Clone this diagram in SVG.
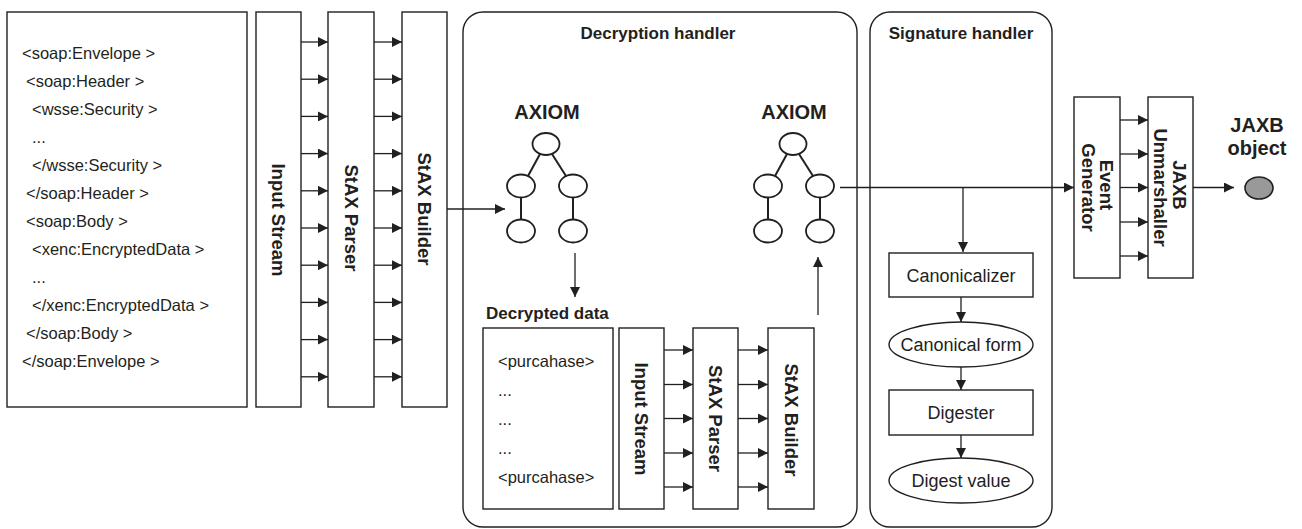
<svg xmlns="http://www.w3.org/2000/svg" width="1302" height="529" viewBox="0 0 1302 529">
  <style>
    .box { fill: #ffffff; stroke: #231f20; stroke-width: 1.4; }
    .panel { fill: #ffffff; stroke: #231f20; stroke-width: 1.4; }
    .node { fill: #ffffff; stroke: #231f20; stroke-width: 1.8; }
    .edge { fill: none; stroke: #231f20; stroke-width: 2; }
    .arrow { fill: none; stroke: #231f20; stroke-width: 1.3; marker-end: url(#head); }
    .code { font-family: "Liberation Sans", Arial, sans-serif; font-size: 16.5px; fill: #231f20; }
    .plain { font-family: "Liberation Sans", Arial, sans-serif; font-size: 18px; fill: #231f20; text-anchor: middle; }
    .title { font-family: "Liberation Sans", Arial, sans-serif; font-size: 17px; font-weight: bold; fill: #231f20; }
    .vlabel { font-family: "Liberation Sans", Arial, sans-serif; font-size: 18.5px; font-weight: bold; fill: #231f20; text-anchor: middle; }
    .big { font-family: "Liberation Sans", Arial, sans-serif; font-size: 20px; font-weight: bold; fill: #231f20; text-anchor: middle; }
  </style>
  <defs>
    <marker id="head" markerUnits="userSpaceOnUse" markerWidth="10" markerHeight="10" viewBox="0 0 10 10" refX="10" refY="5" orient="auto">
      <path d="M0,0 L10,5 L0,10 z" fill="#231f20"/>
    </marker>
  </defs>

  <!-- SOAP message -->
  <g id="soap-message">
    <rect class="box" x="7" y="12" width="240" height="395"/>
    <text class="code" x="22" y="59">&lt;soap:Envelope &gt;</text>
    <text class="code" x="26" y="87">&lt;soap:Header &gt;</text>
    <text class="code" x="32" y="115">&lt;wsse:Security &gt;</text>
    <text class="code" x="32" y="143">...</text>
    <text class="code" x="32" y="171">&lt;/wsse:Security &gt;</text>
    <text class="code" x="26" y="199">&lt;/soap:Header &gt;</text>
    <text class="code" x="26" y="227">&lt;soap:Body &gt;</text>
    <text class="code" x="32" y="255">&lt;xenc:EncryptedData &gt;</text>
    <text class="code" x="32" y="283">...</text>
    <text class="code" x="32" y="311">&lt;/xenc:EncryptedData &gt;</text>
    <text class="code" x="26" y="339">&lt;/soap:Body &gt;</text>
    <text class="code" x="22" y="367">&lt;/soap:Envelope &gt;</text>
  </g>

  <!-- outer pipeline -->
  <g id="input-stream">
    <rect class="box" x="256" y="12" width="45" height="395"/>
    <text class="vlabel" transform="translate(278.5,220) rotate(90)" y="6.5">Input Stream</text>
  </g>
  <g id="stax-parser">
    <rect class="box" x="328" y="12" width="46" height="395"/>
    <text class="vlabel" transform="translate(351,218) rotate(90)" y="6.5">StAX Parser</text>
  </g>
  <g id="stax-builder">
    <rect class="box" x="402" y="12" width="45" height="395"/>
    <text class="vlabel" transform="translate(424.5,209) rotate(90)" y="6.5">StAX Builder</text>
  </g>

  <!-- decryption handler -->
  <g id="decryption-handler">
    <rect class="panel" x="463" y="12" width="394" height="515" rx="20" ry="20"/>
    <text class="title" x="658" y="39" text-anchor="middle">Decryption handler</text>
  </g>
  <g id="axiom-in">
    <text class="big" x="547" y="119">AXIOM</text>
    <line class="edge" x1="540" y1="154" x2="528" y2="176"/>
    <line class="edge" x1="552" y1="154" x2="566" y2="176"/>
    <line class="edge" x1="521" y1="197.5" x2="521" y2="219.5"/>
    <line class="edge" x1="573" y1="197.5" x2="573" y2="219.5"/>
    <ellipse class="node" cx="546" cy="144" rx="13.5" ry="11"/>
    <ellipse class="node" cx="521" cy="186" rx="14" ry="11.5"/>
    <ellipse class="node" cx="573" cy="186" rx="14" ry="11.5"/>
    <ellipse class="node" cx="521" cy="231" rx="14" ry="11.5"/>
    <ellipse class="node" cx="573" cy="231" rx="14" ry="11.5"/>
  </g>
  <g id="axiom-out">
    <text class="big" x="794" y="119">AXIOM</text>
    <line class="edge" x1="787" y1="154" x2="775" y2="176"/>
    <line class="edge" x1="799" y1="154" x2="813" y2="176"/>
    <line class="edge" x1="768" y1="197.5" x2="768" y2="219.5"/>
    <line class="edge" x1="820" y1="197.5" x2="820" y2="219.5"/>
    <ellipse class="node" cx="793" cy="144" rx="13.5" ry="11"/>
    <ellipse class="node" cx="768" cy="186" rx="14" ry="11.5"/>
    <ellipse class="node" cx="820" cy="186" rx="14" ry="11.5"/>
    <ellipse class="node" cx="768" cy="231" rx="14" ry="11.5"/>
    <ellipse class="node" cx="820" cy="231" rx="14" ry="11.5"/>
  </g>
  <g id="decrypted-data">
    <text class="title" x="486" y="319">Decrypted data</text>
    <rect class="box" x="483" y="328" width="130" height="181"/>
    <text class="code" x="498" y="367" font-size="17">&lt;purcahase&gt;</text>
    <text class="code" x="498" y="396">...</text>
    <text class="code" x="498" y="425">...</text>
    <text class="code" x="498" y="454">...</text>
    <text class="code" x="498" y="483" font-size="17">&lt;purcahase&gt;</text>
  </g>
  <g id="inner-input-stream">
    <rect class="box" x="619" y="328" width="45" height="181"/>
    <text class="vlabel" transform="translate(641.5,419) rotate(90)" y="6.5">Input Stream</text>
  </g>
  <g id="inner-stax-parser">
    <rect class="box" x="693" y="328" width="45" height="181"/>
    <text class="vlabel" transform="translate(715.5,418.5) rotate(90)" y="6.5">StAX Parser</text>
  </g>
  <g id="inner-stax-builder">
    <rect class="box" x="768" y="328" width="46" height="181"/>
    <text class="vlabel" transform="translate(791,420) rotate(90)" y="6.5">StAX Builder</text>
  </g>

  <!-- signature handler -->
  <g id="signature-handler">
    <rect class="panel" x="870" y="12" width="182" height="515" rx="20" ry="20"/>
    <text class="title" x="961" y="39" text-anchor="middle">Signature handler</text>
  </g>
  <g id="canonicalizer">
    <rect class="box" x="889" y="253" width="144" height="44"/>
    <text class="plain" x="961" y="282">Canonicalizer</text>
  </g>
  <g id="canonical-form">
    <ellipse class="box" cx="961" cy="344.5" rx="72" ry="22.5"/>
    <text class="plain" x="961" y="351">Canonical form</text>
  </g>
  <g id="digester">
    <rect class="box" x="889" y="390" width="144" height="45"/>
    <text class="plain" x="961" y="419">Digester</text>
  </g>
  <g id="digest-value">
    <ellipse class="box" cx="961" cy="480.5" rx="72" ry="22.5"/>
    <text class="plain" x="961" y="487">Digest value</text>
  </g>

  <!-- JAXB -->
  <g id="event-generator">
    <rect class="box" x="1074" y="97" width="46" height="181"/>
    <text class="vlabel" font-size="18" transform="translate(1097,187.5) rotate(90)">
      <tspan x="0" y="-3">Event</tspan>
      <tspan x="0" y="15">Generator</tspan>
    </text>
  </g>
  <g id="jaxb-unmarshaller">
    <rect class="box" x="1148" y="97" width="45" height="181"/>
    <text class="vlabel" font-size="18" transform="translate(1170.5,187.5) rotate(90)">
      <tspan x="0" y="-2.5">JAXB</tspan>
      <tspan x="0" y="16.5">Unmarshaller</tspan>
    </text>
  </g>
  <g id="jaxb-object">
    <text class="big" x="1257" y="132" font-size="21">JAXB</text>
    <text class="big" x="1257" y="155" font-size="21">object</text>
    <ellipse cx="1259" cy="188" rx="14" ry="11" fill="#999999" stroke="#231f20" stroke-width="1.6"/>
  </g>

  <!-- connectors -->
  <g id="connectors">
    <!-- input stream to parser -->
    <line class="arrow" x1="301" y1="42" x2="328" y2="42"/>
    <line class="arrow" x1="301" y1="79.2" x2="328" y2="79.2"/>
    <line class="arrow" x1="301" y1="116.4" x2="328" y2="116.4"/>
    <line class="arrow" x1="301" y1="153.6" x2="328" y2="153.6"/>
    <line class="arrow" x1="301" y1="190.8" x2="328" y2="190.8"/>
    <line class="arrow" x1="301" y1="228" x2="328" y2="228"/>
    <line class="arrow" x1="301" y1="265.2" x2="328" y2="265.2"/>
    <line class="arrow" x1="301" y1="302.4" x2="328" y2="302.4"/>
    <line class="arrow" x1="301" y1="339.6" x2="328" y2="339.6"/>
    <line class="arrow" x1="301" y1="376.8" x2="328" y2="376.8"/>
    <!-- parser to builder -->
    <line class="arrow" x1="374" y1="42" x2="402" y2="42"/>
    <line class="arrow" x1="374" y1="79.2" x2="402" y2="79.2"/>
    <line class="arrow" x1="374" y1="116.4" x2="402" y2="116.4"/>
    <line class="arrow" x1="374" y1="153.6" x2="402" y2="153.6"/>
    <line class="arrow" x1="374" y1="190.8" x2="402" y2="190.8"/>
    <line class="arrow" x1="374" y1="228" x2="402" y2="228"/>
    <line class="arrow" x1="374" y1="265.2" x2="402" y2="265.2"/>
    <line class="arrow" x1="374" y1="302.4" x2="402" y2="302.4"/>
    <line class="arrow" x1="374" y1="339.6" x2="402" y2="339.6"/>
    <line class="arrow" x1="374" y1="376.8" x2="402" y2="376.8"/>
    <!-- builder to AXIOM -->
    <line class="arrow" x1="447" y1="209" x2="505" y2="209"/>
    <!-- AXIOM down to decrypted data -->
    <line class="arrow" x1="575" y1="253" x2="575" y2="297"/>
    <!-- inner stream to parser -->
    <line class="arrow" x1="664" y1="350" x2="693" y2="350"/>
    <line class="arrow" x1="664" y1="384.5" x2="693" y2="384.5"/>
    <line class="arrow" x1="664" y1="418.5" x2="693" y2="418.5"/>
    <line class="arrow" x1="664" y1="453" x2="693" y2="453"/>
    <line class="arrow" x1="664" y1="487" x2="693" y2="487"/>
    <!-- inner parser to builder -->
    <line class="arrow" x1="738" y1="350" x2="768" y2="350"/>
    <line class="arrow" x1="738" y1="384.5" x2="768" y2="384.5"/>
    <line class="arrow" x1="738" y1="418.5" x2="768" y2="418.5"/>
    <line class="arrow" x1="738" y1="453" x2="768" y2="453"/>
    <line class="arrow" x1="738" y1="487" x2="768" y2="487"/>
    <!-- inner builder up to AXIOM -->
    <line class="arrow" x1="818" y1="315" x2="818" y2="257"/>
    <!-- AXIOM to event generator -->
    <line class="arrow" x1="840" y1="187.5" x2="1074" y2="187.5"/>
    <!-- branch into signature handler -->
    <line class="arrow" x1="963" y1="187.5" x2="963" y2="252"/>
    <line class="arrow" x1="961" y1="297" x2="961" y2="322"/>
    <line class="arrow" x1="961" y1="367" x2="961" y2="390"/>
    <line class="arrow" x1="961" y1="435" x2="961" y2="458"/>
    <!-- event generator to unmarshaller -->
    <line class="arrow" x1="1120" y1="120" x2="1148" y2="120"/>
    <line class="arrow" x1="1120" y1="154" x2="1148" y2="154"/>
    <line class="arrow" x1="1120" y1="187.5" x2="1148" y2="187.5"/>
    <line class="arrow" x1="1120" y1="222" x2="1148" y2="222"/>
    <line class="arrow" x1="1120" y1="256" x2="1148" y2="256"/>
    <!-- unmarshaller to object -->
    <line class="arrow" x1="1193" y1="187.5" x2="1234" y2="187.5"/>
  </g>
</svg>
